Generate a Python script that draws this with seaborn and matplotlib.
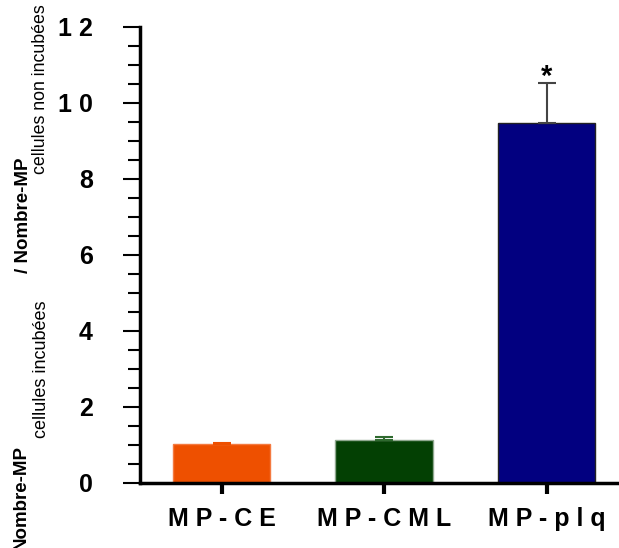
import matplotlib
matplotlib.use("Agg")
import matplotlib.pyplot as plt
import seaborn as sns
import pandas as pd
from matplotlib.ticker import MultipleLocator

categories = ["M P - C E", "M P - C M L", "M P - p l q"]
means = [1.03, 1.13, 9.47]
errors = [0.02, 0.09, 1.06]
bar_colors = ["#EE5000", "#034003", "#020080"]
edge_colors = ["#F47A40", "#8FA88F", "#222222"]
err_colors = ["#EE5000", "#2F6A2F", "#444444"]
ytick_values = [0, 2, 4, 6, 8, 10, 12]
ytick_labels = ["0", "2", "4", "6", "8", "1 0", "1 2"]

sns.set_theme(style="ticks")
plt.rcParams["font.family"] = ["Liberation Sans", "DejaVu Sans"]
plt.rcParams["text.color"] = "black"
plt.rcParams["xtick.color"] = "black"
plt.rcParams["ytick.color"] = "black"

W, H = 619, 548
fig = plt.figure(figsize=(W / 100, H / 100), dpi=100)
ax = fig.add_axes([140 / W, (H - 483) / H, (619 - 140) / W, (483 - 27) / H])

df = pd.DataFrame({"cat": categories, "val": means})
sns.barplot(data=df, x="cat", y="val", hue="cat", palette=bar_colors,
            legend=False, width=0.6, errorbar=None, ax=ax, saturation=1)
for patch, ec in zip(ax.patches, edge_colors):
    patch.set_edgecolor(ec)
    patch.set_linewidth(1.0)

for i, (m, e, c) in enumerate(zip(means, errors, err_colors)):
    ax.errorbar(i, m, yerr=[[0], [e]], fmt="none", ecolor=c, elinewidth=1.5,
                capsize=6.5, capthick=1.5, zorder=3)

ax.text(2, means[2] + errors[2] - 0.2, "*", ha="center", va="bottom",
        fontsize=21, fontweight="bold", color="black")

ax.set_ylim(0, 12)
ax.set_xlim((140 - 221.5) / 162.5, (619 - 221.5) / 162.5)
ax.set_yticks(ytick_values)
ax.set_yticklabels(ytick_labels, fontsize=18, fontweight="bold", color="black")
ax.yaxis.set_minor_locator(MultipleLocator(0.5))
ax.set_xticks(range(len(categories)))
ax.set_xticklabels(categories, fontsize=18, fontweight="bold", color="black")
ax.set_xlabel("")
ax.set_ylabel("")

ax.tick_params(axis="y", which="major", length=12, width=1.5, pad=22, color="black")
ax.tick_params(axis="y", which="minor", length=8.5, width=1.5, color="black")
ax.tick_params(axis="x", which="major", length=8, width=3, pad=9, color="black")

for s in ["top", "right"]:
    ax.spines[s].set_visible(False)
for s in ["left", "bottom"]:
    ax.spines[s].set_linewidth(2.5)
    ax.spines[s].set_color("black")

# Composite y-axis label
def ft(xp, yp, s, **kw):
    fig.text(xp / W, 1 - yp / H, s, rotation=90, ha="center", va="center",
             color="black", **kw)

ft(21, 497, "Nombre-MP", fontsize=13.5, fontweight="bold")
ft(41, 369, "cellules incubées", fontsize=13)
ft(24, 215, "/ Nombre-MP", fontsize=13.5, fontweight="bold")
ft(41, 89, "cellules non incubées", fontsize=12.8)

fig.savefig("out.png", dpi=100)
